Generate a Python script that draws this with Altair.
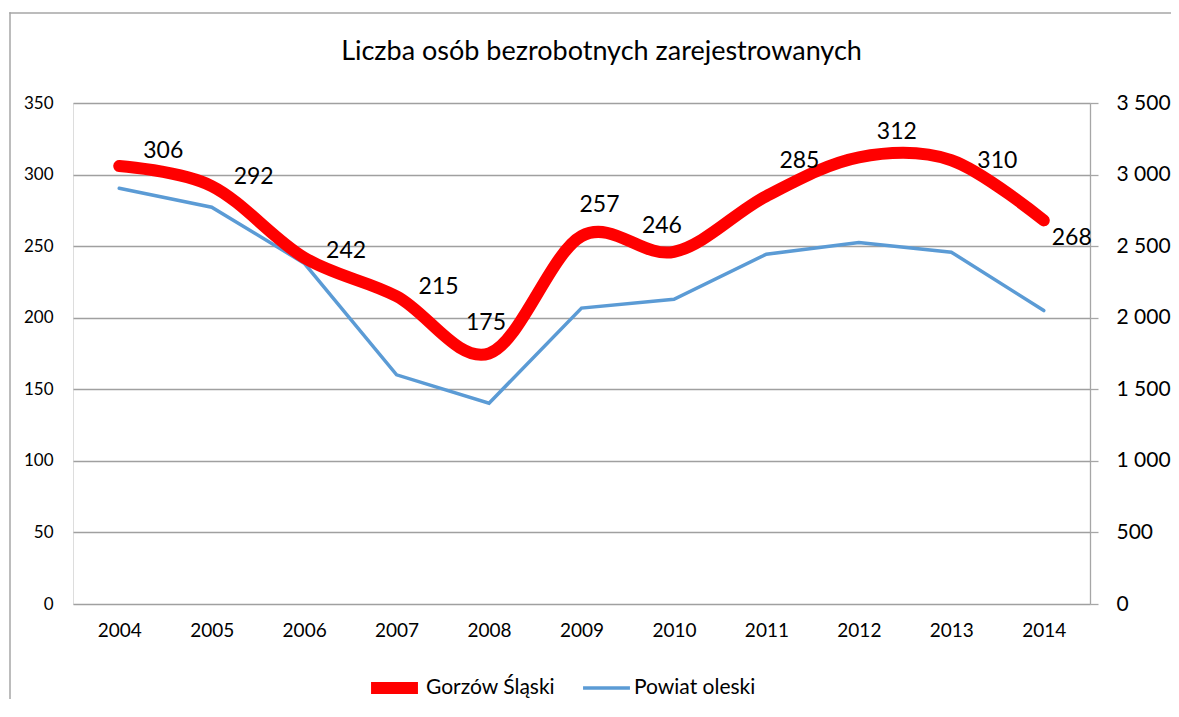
import altair as alt
import pandas as pd

years = ["2004", "2005", "2006", "2007", "2008", "2009", "2010", "2011", "2012", "2013", "2014"]
gorzow = [306, 292, 242, 215, 175, 257, 246, 285, 312, 310, 268]
powiat = [2904, 2772, 2381, 1601, 1403, 2067, 2129, 2444, 2525, 2458, 2050]

series_names = ["Gorzów Śląski", "Powiat oleski"]
series_colors = ["#FF0000", "#5B9BD5"]

# label offsets (pixels) relative to each data point
label_dx = [44, 42, 42, 42, -3, 18, -12, 33, 38, 46, 28]
label_dy = [-15, -9, -7, -9, -31, -31, -26, -35, -25, 1, 18]

FONT = "Lato"

df_g = pd.DataFrame({"year": years, "value": gorzow, "series": series_names[0],
                     "dx": label_dx, "dy": label_dy})
df_p = pd.DataFrame({"year": years, "value": powiat, "series": series_names[1]})

x_enc = alt.X("year:O", scale=alt.Scale(type="point", padding=0.5),
              axis=alt.Axis(title=None, domain=False, ticks=False, labelAngle=0,
                            labelFontSize=19, labelPadding=17, labelFont=FONT,
                            labelColor="black"))

color_enc = alt.Color("series:N", scale=alt.Scale(domain=series_names, range=series_colors),
                      legend=alt.Legend(title=None, orient="none", direction="horizontal",
                                        legendX=292, legendY=577, symbolType="stroke",
                                        symbolSize=2200, labelFontSize=21, labelFont=FONT,
                                        labelColor="black", labelOffset=2, columnPadding=25,
                                        clipHeight=16))
sw_enc = alt.StrokeWidth("series:N", scale=alt.Scale(domain=series_names, range=[12, 3.5]),
                         legend=None)

blue = alt.Chart(df_p).mark_line(strokeCap="round").encode(
    x=x_enc,
    y=alt.Y("value:Q", scale=alt.Scale(domain=[0, 3500]),
            axis=alt.Axis(title=None, orient="right", values=list(range(0, 3501, 500)),
                          grid=False, domain=True, domainColor="#A6A6A6", domainWidth=1.3,
                          ticks=True, tickSize=8, tickColor="#A6A6A6", tickWidth=1.3,
                          labelFontSize=21, labelPadding=18, labelFont=FONT,
                          labelColor="black",
                          labelExpr="replace(format(datum.value, ','), ',', ' ')")),
    color=color_enc,
    strokeWidth=sw_enc,
)

red_y = alt.Y("value:Q", scale=alt.Scale(domain=[0, 350]),
              axis=alt.Axis(title=None, orient="left", values=list(range(0, 351, 50)),
                            grid=True, gridColor="#A0A0A0", gridWidth=1.3,
                            domain=False, ticks=False, labelFontSize=17, labelPadding=20,
                            labelFont=FONT, labelColor="black"))

red = alt.Chart(df_g).mark_line(interpolate="cardinal", strokeCap="round").encode(
    x=x_enc, y=red_y, color=color_enc, strokeWidth=sw_enc,
)

labels = alt.Chart(df_g).mark_text(fontSize=23, font=FONT, color="black",
                                   align="center", baseline="middle",
                                   dx=alt.expr("datum.dx"), dy=alt.expr("datum.dy")).encode(
    x=x_enc, y=red_y,
    text="value:Q",
)

# outer chart frame (top and left edges visible), drawn as thin filled bars
frame_top = alt.Chart(alt.Data(values=[{"edge": "top"}])).mark_rect(
    fill="#A6A6A6", strokeWidth=0).encode(
    x=alt.value(-63.75), x2=alt.value(1098), y=alt.value(-90.75), y2=alt.value(-89.25))
frame_left = alt.Chart(alt.Data(values=[{"edge": "left"}])).mark_rect(
    fill="#A6A6A6", strokeWidth=0).encode(
    x=alt.value(-63.75), x2=alt.value(-62.25), y=alt.value(-90.75), y2=alt.value(596))

red_layer = alt.layer(red, labels)

chart = alt.layer(frame_top, frame_left, blue, red_layer).resolve_scale(y="independent").properties(
    width=1017, height=501,
    autosize=alt.AutoSizeParams(type="none"),
    padding={"left": 65, "top": 95, "right": 81, "bottom": 97},
    title=alt.TitleParams("Liczba osób bezrobotnych zarejestrowanych", fontSize=27,
                          font=FONT, fontWeight="normal", color="black", frame="group",
                          baseline="alphabetic", offset=-75, dx=20),
).configure_view(stroke=None).configure(background="white")

chart.save("out.html", embed_options={"renderer": "svg", "actions": False})
